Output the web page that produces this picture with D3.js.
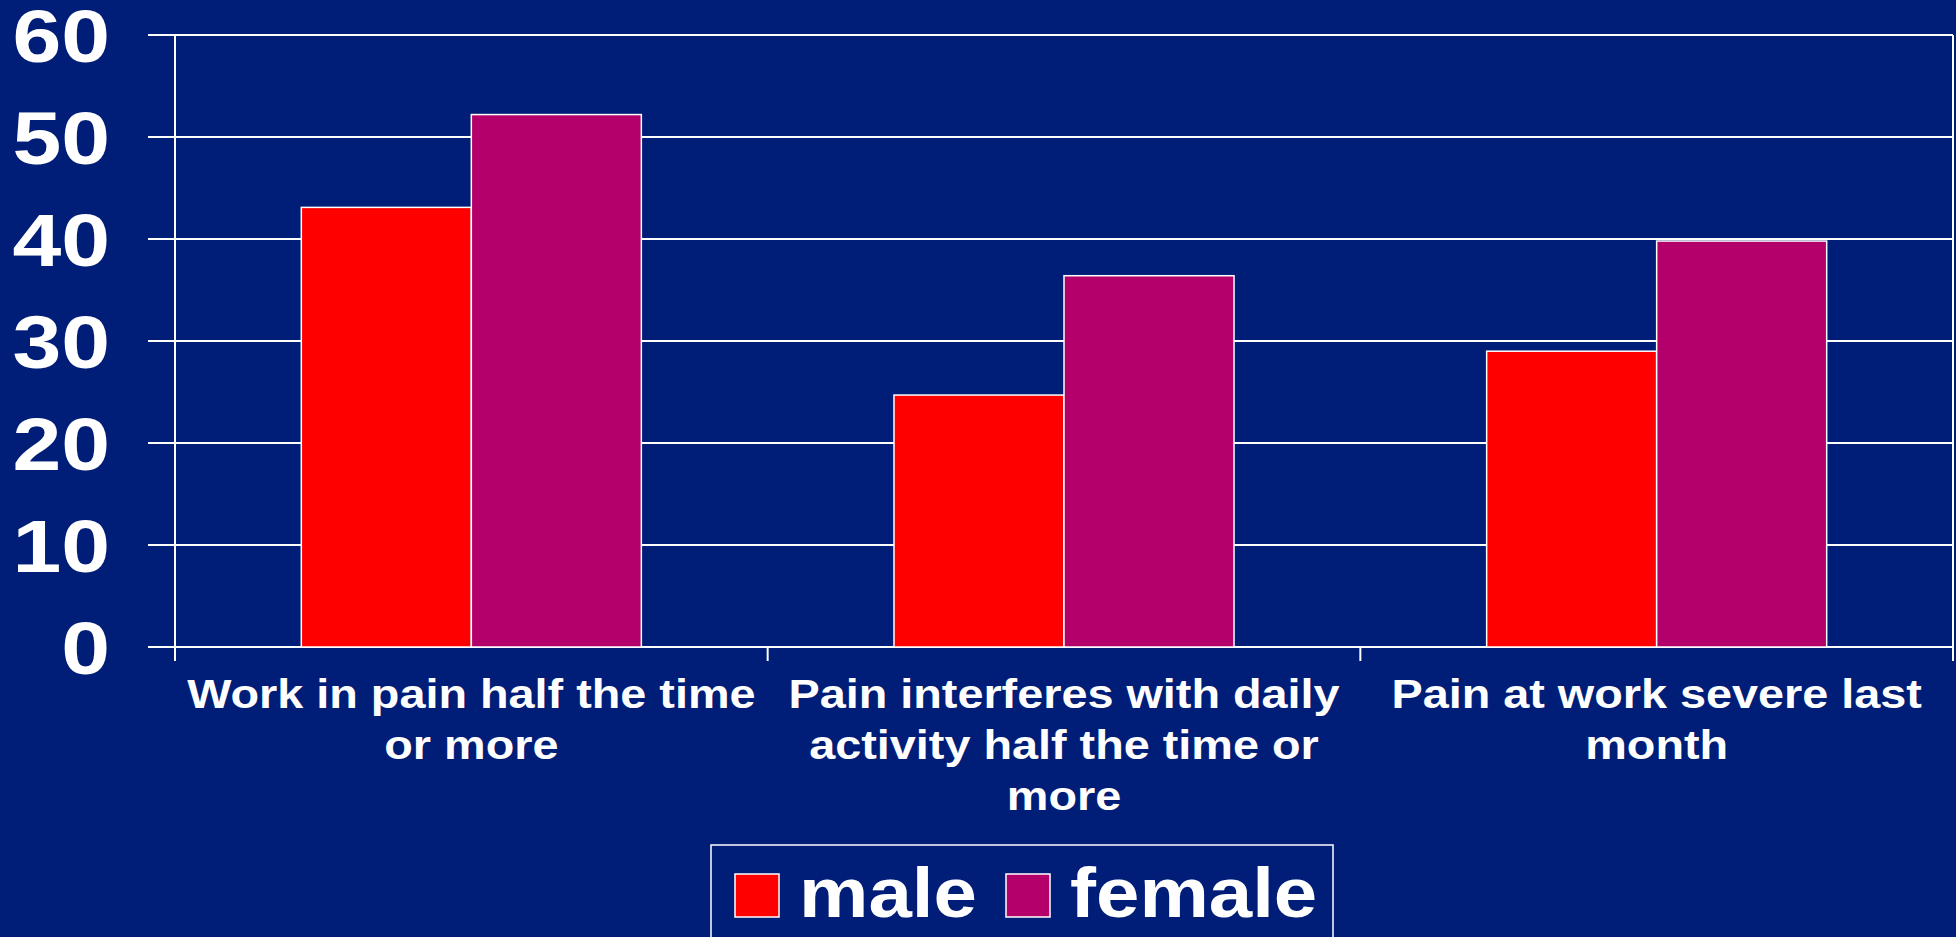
<!DOCTYPE html>
<html>
<head>
<meta charset="utf-8">
<script src="https://d3js.org/d3.v7.min.js"></script>
<style>
  html, body {
    margin: 0;
    padding: 0;
    background: #001e78;
    overflow: hidden;
  }
  svg text {
    font-family: "Liberation Sans", Arial, sans-serif;
    font-weight: bold;
    fill: #fff;
  }
</style>
</head>
<body>
<svg id="chart" width="1956" height="937"></svg>
<script>
  // data
  const categories = [
    ["Work in pain half the time", "or more"],
    ["Pain interferes with daily", "activity half the time or", "more"],
    ["Pain at work severe last", "month"]
  ];
  const series = ["male", "female"];
  const male = [43.1, 24.7, 29.0];
  const female = [52.2, 36.4, 39.8];
  const yTicks = [0, 10, 20, 30, 40, 50, 60];

  const colors = { male: "#ff0000", female: "#b4006a" };
  const values = { male, female };

  const W = 1956, H = 937;
  const plotLeft = 175, plotRight = 1953, plotTop = 35, plotBottom = 647;
  // the slide text is a bit wider than plain Arial bold
  const stretch = 1.17;

  const svg = d3.select("#chart");
  svg.append("rect").attr("width", W).attr("height", H).attr("fill", "#001e78");

  const catIdx = categories.map((d, i) => i);
  const x0 = d3.scaleBand().domain(catIdx).range([plotLeft, plotRight]).padding(0);
  const x1 = d3.scaleBand().domain(series).range([0, x0.bandwidth()])
    .paddingInner(0).paddingOuter(0.743);
  const y = d3.scaleLinear().domain([0, 60]).range([plotBottom, plotTop]);

  // gridlines + y ticks
  const grid = svg.append("g");
  grid.selectAll("line").data(yTicks).join("line")
    .attr("x1", plotLeft - 27).attr("x2", plotRight)
    .attr("y1", d => y(d)).attr("y2", d => y(d))
    .attr("stroke", "#fff").attr("stroke-width", 2);

  // frame: y axis, right edge
  svg.append("line").attr("x1", plotLeft).attr("x2", plotLeft)
    .attr("y1", plotTop).attr("y2", plotBottom + 14)
    .attr("stroke", "#fff").attr("stroke-width", 2);
  svg.append("line").attr("x1", plotRight).attr("x2", plotRight)
    .attr("y1", plotTop).attr("y2", plotBottom + 14)
    .attr("stroke", "#fff").attr("stroke-width", 2);

  // category ticks
  svg.append("g").selectAll("line").data(catIdx.slice(1)).join("line")
    .attr("x1", d => x0(d)).attr("x2", d => x0(d))
    .attr("y1", plotBottom).attr("y2", plotBottom + 14)
    .attr("stroke", "#fff").attr("stroke-width", 2);

  // y labels
  svg.append("g").selectAll("text").data(yTicks).join("text")
    .attr("transform", d => `translate(110,${y(d) + 27}) scale(${stretch},1)`)
    .attr("text-anchor", "end")
    .attr("font-size", 75)
    .text(d => d);

  // bars
  const groups = svg.append("g").selectAll("g").data(catIdx).join("g")
    .attr("transform", d => `translate(${x0(d)},0)`);
  groups.selectAll("rect")
    .data(i => series.map(s => ({ s, v: values[s][i] })))
    .join("rect")
    .attr("x", d => x1(d.s))
    .attr("width", x1.bandwidth())
    .attr("y", d => y(d.v))
    .attr("height", d => y(0) - y(d.v))
    .attr("fill", d => colors[d.s])
    .attr("stroke", "#fff").attr("stroke-width", 1.5);

  // x labels
  const xl = svg.append("g").selectAll("text").data(catIdx).join("text")
    .attr("text-anchor", "middle")
    .attr("font-size", 40)
    .attr("transform", d => `translate(${x0(d) + x0.bandwidth() / 2},708) scale(${stretch},1)`);
  xl.selectAll("tspan").data(i => categories[i]).join("tspan")
    .attr("x", 0).attr("y", (d, j) => j * 51)
    .text(d => d);

  // legend
  const lg = svg.append("g");
  lg.append("rect").attr("x", 711).attr("y", 845).attr("width", 622).attr("height", 120)
    .attr("fill", "none").attr("stroke", "#fff").attr("stroke-width", 1.5);
  const legendX = { male: 735, female: 1006 };
  series.forEach(s => {
    lg.append("rect").attr("x", legendX[s]).attr("y", 874)
      .attr("width", 44).attr("height", 43)
      .attr("fill", colors[s]).attr("stroke", "#fff").attr("stroke-width", 1.5);
    lg.append("text")
      .attr("transform", `translate(${legendX[s] + 64},917) scale(1.115,1)`)
      .attr("font-size", 70)
      .text(s);
  });
</script>
</body>
</html>
